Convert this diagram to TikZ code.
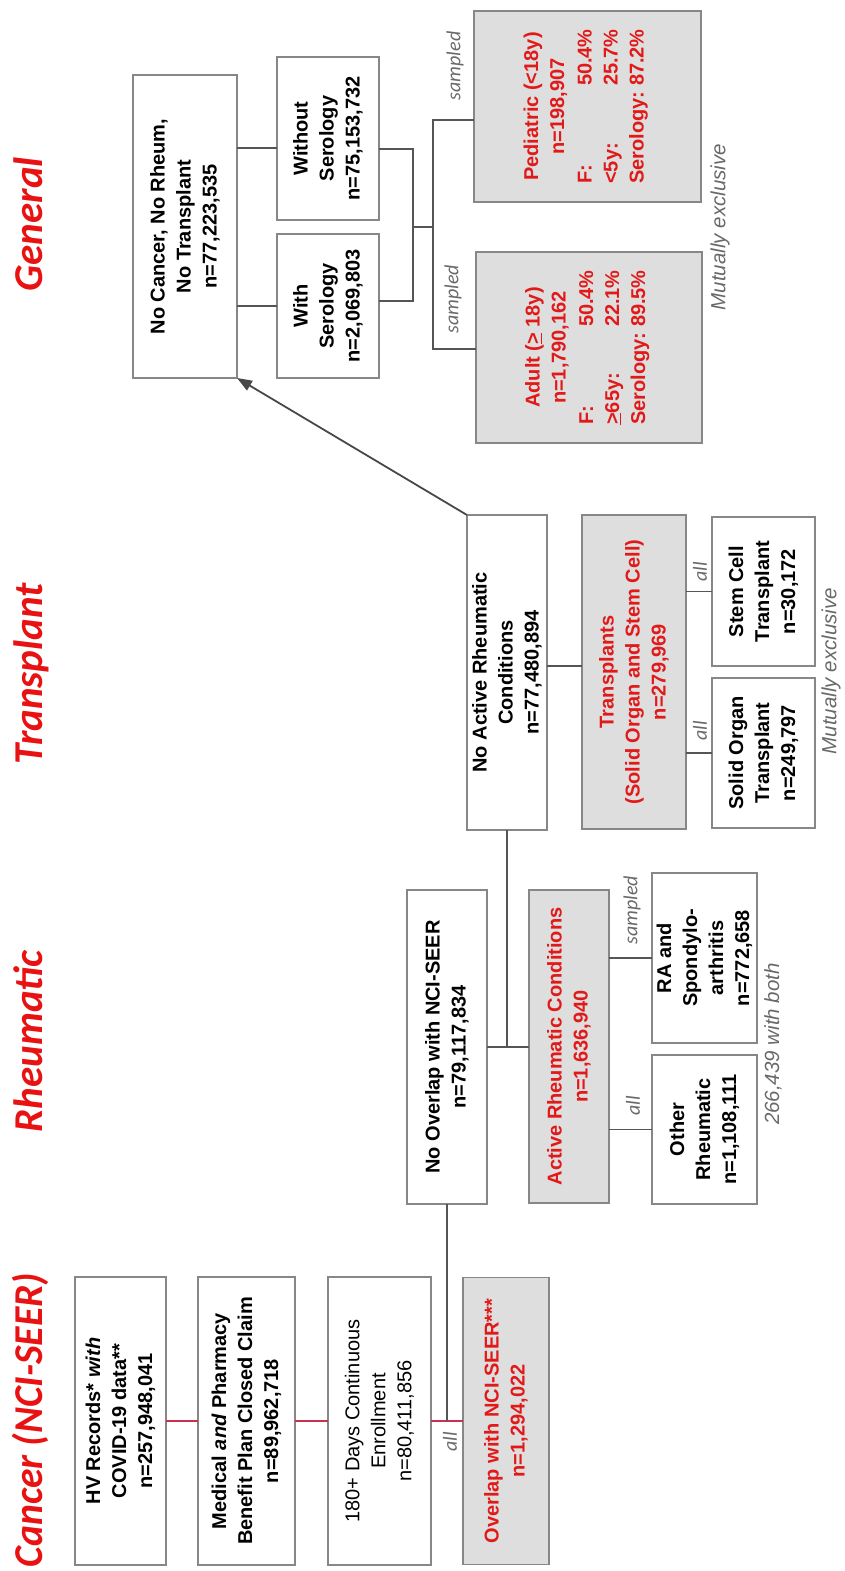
\documentclass[tikz,border=0pt]{standalone}
\usepackage{fontspec}
\usepackage{graphicx}
\setmainfont{Liberation Sans}
\newfontfamily\hdrfont{Carlito}
\usetikzlibrary{arrows.meta}
\definecolor{boxline}{RGB}{135,135,135}
\definecolor{boxfill}{RGB}{222,222,222}
\definecolor{conn}{RGB}{85,85,85}
\definecolor{redconn}{RGB}{200,50,80}
\definecolor{hred}{RGB}{232,18,18}
\definecolor{tred}{RGB}{225,25,25}
\definecolor{lblgray}{RGB}{105,105,105}
\begin{document}
\begin{tikzpicture}[x=1pt,y=-1pt,
  bx/.style={draw=boxline, line width=1.6pt, rotate=90, align=center, inner sep=0pt, outer sep=0pt,
    font=\fontsize{20}{26}\selectfont\bfseries, text=black},
  rbx/.style={bx, font=\fontsize{20}{26}\selectfont},
  gbx/.style={bx, fill=boxfill, text=tred},
  hdr/.style={rotate=90, anchor=base east, inner sep=0pt, text=hred,
    font=\hdrfont\fontsize{41}{41}\selectfont\bfseries\itshape},
  lbl/.style={rotate=90, inner sep=0pt, text=lblgray, font=\hdrfont\fontsize{20}{20}\selectfont\itshape},
  notelbl/.style={rotate=90, inner sep=0pt, text=lblgray, font=\fontsize{20.5}{20.5}\selectfont\itshape},
  cn/.style={draw=conn, line width=1.8pt},
  rc/.style={draw=redconn, line width=1.8pt}]
\useasboundingbox (0,0) rectangle (844,1571);

% headers
\node[hdr, anchor=base] (hcan) at (42,1420) {\resizebox{294pt}{\height}{Cancer (NCI-SEER)}};
\node[hdr] (hrheu) at (42,950) {Rheumatic};
\node[hdr] (htra) at (42,583) {Transplant};
\node[hdr] (hgen) at (42,157) {General};

% cancer column
\node[bx, minimum width=288pt, minimum height=91pt] (hv) at (120.5,1421)
  {HV Records* \textit{with}\\COVID-19 data**\\n=257,948,041};
\node[bx, minimum width=288pt, minimum height=97pt] (med) at (246.5,1421)
  {Medical \textit{and} Pharmacy\\Benefit Plan Closed Claim\\n=89,962,718};
\node[rbx, minimum width=288pt, minimum height=103pt] (enr) at (379.5,1421)
  {180+ Days Continuous\\Enrollment\\n=80,411,856};
\node[gbx, minimum width=287pt, minimum height=86pt] (ovl) at (506,1421)
  {Overlap with NCI-SEER***\\n=1,294,022};

% rheumatic column
\node[bx, minimum width=314pt, minimum height=80pt] (noovl) at (447,1047)
  {No Overlap with NCI-SEER\\n=79,117,834};
\node[gbx, minimum width=313pt, minimum height=80pt] (active) at (569,1046.5)
  {Active Rheumatic Conditions\\n=1,636,940};
\node[bx, minimum width=170pt, minimum height=105pt] (ra) at (704.5,958)
  {RA and\\Spondylo-\\arthritis\\n=772,658};
\node[bx, minimum width=149pt, minimum height=105pt] (other) at (704.5,1129.5)
  {Other\\Rheumatic\\n=1,108,111};

% transplant column
\node[bx, minimum width=315pt, minimum height=80pt] (noactive) at (507,672.5)
  {No Active Rheumatic\\Conditions\\n=77,480,894};
\node[gbx, minimum width=314pt, minimum height=104pt] (transp) at (634,672)
  {Transplants\\(Solid Organ and Stem Cell)\\n=279,969};
\node[bx, minimum width=149pt, minimum height=103pt] (stem) at (763.5,591.5)
  {Stem Cell\\Transplant\\n=30,172};
\node[bx, minimum width=150pt, minimum height=103pt] (solid) at (763.5,753)
  {Solid Organ\\Transplant\\n=249,797};

% general column
\node[bx, minimum width=303pt, minimum height=104pt] (nocan) at (185,226.5)
  {No Cancer, No Rheum,\\No Transplant\\n=77,223,535};
\node[bx, minimum width=163pt, minimum height=102pt] (without) at (328,138.5)
  {Without\\Serology\\n=75,153,732};
\node[bx, minimum width=144pt, minimum height=102pt] (with) at (328,306)
  {With\\Serology\\n=2,069,803};
\node[gbx, minimum width=191pt, minimum height=227pt] (ped) at (587.5,106.5)
  {Pediatric (<18y)\\n=198,907\\[5pt]%
   \begin{tabular}{@{}l@{\ }r@{}}F: & 50.4\%\\ <5y: & 25.7\%\\ Serology: & 87.2\%\end{tabular}};
\node[gbx, minimum width=191pt, minimum height=226pt] (adult) at (589,347.5)
  {Adult (\underline{>} 18y)\\n=1,790,162\\[5pt]%
   \begin{tabular}{@{}l@{\ }r@{}}F: & 50.4\%\\ \underline{>}65y: & 22.1\%\\ Serology: & 89.5\%\end{tabular}};

% connectors: cancer
\draw[rc] (hv.south) -- (med.north);
\draw[rc] (med.south) -- (enr.north);
\draw[rc] (enr.south) -- (ovl.north);
\draw[cn] (noovl.west) -- (noovl.west |- enr.south);
\node[lbl] (lall1) at (450,1442) {all};

% connectors: rheumatic
\draw[cn] (noovl.south) -- (active.north |- noovl.south);
\draw[cn] (noactive.west) -- (noactive.west |- noovl.south);
\draw[cn] (active.south |- ra.center) -- (ra.north);
\draw[cn] (active.south |- other.center) -- (other.north);
\node[lbl] (lsam1) at (632,910) {sampled};
\node[lbl] (lall2) at (633,1106) {all};
\node[notelbl] (both) at (773,1044) {266,439 with both};

% connectors: transplant
\draw[cn] (noactive.south |- 0,666) -- (transp.north |- 0,666);
\draw[cn] (transp.south |- stem.center) -- (stem.north);
\draw[cn] (transp.south |- solid.center) -- (solid.north);
\node[lbl] (lall3) at (700,572) {all};
\node[lbl] (lall4) at (700,731) {all};
\node[notelbl] (mex1) at (831,671) {Mutually exclusive};

% arrow to general
\draw[draw=conn!85!black, line width=1.8pt, -{Triangle[length=15pt,width=11pt]}] (noactive.north east) -- (nocan.south west);

% connectors: general
\coordinate (bt) at (413,149);
\coordinate (bb) at (413,301);
\coordinate (j1) at (413,227);
\coordinate (j2) at (433,227);
\draw[cn] (nocan.south |- 0,148) -- (without.north |- 0,148);
\draw[cn] (nocan.south |- 0,306) -- (with.north |- 0,306);
\draw[cn] (without.south |- bt) -- (bt) -- (bb) -- (with.south |- bb);
\draw[cn] (j1) -- (j2);
\draw[cn] (ped.north |- 0,120) -| (j2) |- (adult.north |- 0,349);
\node[lbl] (lsam2) at (455,66) {sampled};
\node[lbl] (lsam3) at (453,299) {sampled};
\node[notelbl] (mex2) at (720,227) {Mutually exclusive};
\end{tikzpicture}
\end{document}
